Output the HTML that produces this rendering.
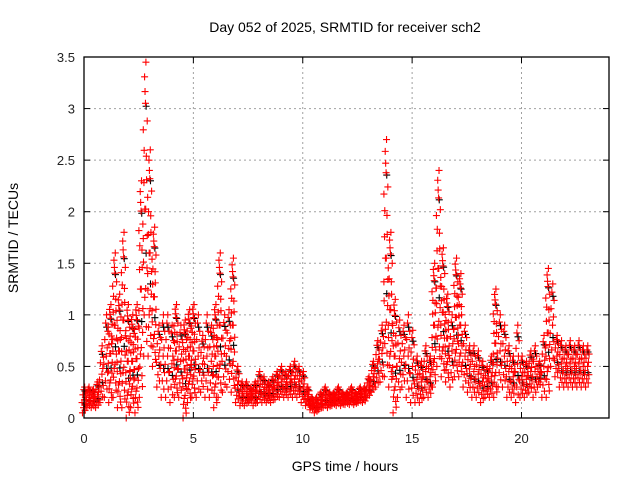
<!DOCTYPE html>
<html><head><meta charset="utf-8"><style>
body{margin:0;background:#fff}
svg{display:block;font-family:"Liberation Sans",sans-serif}
</style></head><body>
<svg id="chart" width="640" height="480">
<text x="345" y="32" font-size="14" text-anchor="middle">Day 052 of 2025, SRMTID for receiver sch2</text>
<text x="345" y="471" font-size="14" text-anchor="middle">GPS time / hours</text>
<text transform="translate(18,238) rotate(-90)" font-size="14" text-anchor="middle">SRMTID / TECUs</text>
<g id="grid"></g><g id="black"></g><g id="marks"></g><g id="axes"></g>
</svg>
<script>
const xTicks=[0,5,10,15,20];
const yTicks=[0,0.5,1,1.5,2,2.5,3,3.5];
const yTickLabels=["0","0.5","1","1.5","2","2.5","3","3.5"];
const stepHours=0.2;
const hiVals=[0.3,0.3,0.28,0.35,0.7,1.0,1.1,1.6,1.2,1.8,1.1,1.0,1.1,2.3,3.45,2.6,1.85,0.9,1.0,1.0,0.9,1.1,0.9,0.95,1.05,1.1,1.0,0.8,1.0,0.9,1.1,1.6,1.0,1.05,1.55,0.5,0.35,0.35,0.3,0.35,0.45,0.4,0.35,0.4,0.45,0.5,0.45,0.5,0.55,0.5,0.45,0.3,0.2,0.2,0.25,0.3,0.25,0.25,0.3,0.25,0.25,0.3,0.25,0.3,0.3,0.4,0.55,0.75,0.9,2.7,1.8,1.15,0.95,0.9,1.0,0.85,0.6,0.55,0.7,0.6,1.5,2.4,1.65,1.2,1.0,1.55,1.4,0.9,0.7,0.7,0.65,0.55,0.5,0.6,1.25,1.0,0.9,0.7,0.6,0.9,0.6,0.55,0.65,0.7,0.55,0.8,1.45,1.3,0.8,0.75,0.7,0.75,0.7,0.75,0.7,0.7];
const loVals=[0.05,0.1,0.1,0.1,0.15,0.2,0.15,0.2,0.1,0.1,0.0,0.1,0.05,0.2,0.6,0.6,0.5,0.3,0.2,0.2,0.15,0.2,0.2,0.0,0.15,0.2,0.2,0.25,0.2,0.2,0.1,0.2,0.25,0.3,0.25,0.15,0.12,0.12,0.15,0.12,0.15,0.15,0.15,0.15,0.18,0.2,0.2,0.2,0.2,0.2,0.15,0.12,0.08,0.05,0.08,0.1,0.1,0.12,0.12,0.12,0.13,0.13,0.13,0.15,0.15,0.2,0.25,0.3,0.35,0.4,0.3,0.05,0.2,0.3,0.2,0.15,0.15,0.15,0.2,0.2,0.3,0.5,0.4,0.35,0.3,0.4,0.4,0.3,0.25,0.2,0.2,0.15,0.2,0.2,0.2,0.3,0.3,0.2,0.2,0.15,0.2,0.2,0.25,0.2,0.3,0.2,0.2,0.5,0.4,0.3,0.3,0.3,0.3,0.3,0.3,0.3];
const NS="http://www.w3.org/2000/svg";
const L=84,R=609,T=57,B=418;
const xs=h=>L+h*(R-L)/24;
const ys=v=>B-v*(B-T)/3.5;
function mk(tag,attrs,parent){const e=document.createElementNS(NS,tag);for(const k in attrs)e.setAttribute(k,attrs[k]);parent.appendChild(e);return e;}
const grid=document.getElementById('grid'),axes=document.getElementById('axes'),marks=document.getElementById('marks'),black=document.getElementById('black');
xTicks.forEach((t,i)=>{
  const x=xs(t);
  if(t>0){const g=mk('line',{x1:x,x2:x,y1:T,y2:B,stroke:'#a0a0a0','stroke-dasharray':'2,3'},grid);
  
  }
  mk('line',{x1:x,x2:x,y1:B,y2:B-6,stroke:'#000'},axes);
  mk('line',{x1:x,x2:x,y1:T,y2:T+6,stroke:'#000'},axes);
  const tx=mk('text',{x:x,y:B+25,'font-size':13,'text-anchor':'middle',fill:'#222'},axes);
  tx.textContent=String(t);
  
  
});
yTicks.forEach((v,i)=>{
  const y=ys(v);
  if(v>0&&v<3.5){const g=mk('line',{x1:L,x2:R,y1:y,y2:y,stroke:'#a0a0a0','stroke-dasharray':'2,3'},grid);
  
  }
  mk('line',{x1:L,x2:L+6,y1:y,y2:y,stroke:'#000'},axes);
  mk('line',{x1:R,x2:R-6,y1:y,y2:y,stroke:'#000'},axes);
  const tx=mk('text',{x:L-9,y:y+5,'font-size':13,'text-anchor':'end',fill:'#222'},axes);
  tx.textContent=yTickLabels[i];
  
  
});
const frame=mk('rect',{x:L,y:T,width:R-L,height:B-T,fill:'none',stroke:'#000','stroke-width':1.3},axes);


function plus(x,y,c,g){return mk('path',{d:`M${x-3.5},${y}h7M${x},${y-3.5}v7`,stroke:c,'stroke-width':1.1,fill:'none'},g);}
const fr=[0,0.1,0.2,0.3,0.4,0.5,0.6,0.7,0.8,0.9,1];
const off=[-0.07,0.05,-0.02,0.08,-0.09,0.02,0.06,-0.05,0.09,-0.01,0.03];
const n=Math.min(hiVals.length,loVals.length);
for(let i=0;i<n;i++){
  const h=i*stepHours,lo=loVals[i],hi=hiVals[i];
  [0.35,0.85].forEach(f=>{
    const b=plus(xs(h+0.04),ys(lo+(hi-lo)*f),'#000',black);
    
    
  });
  fr.forEach((f,k)=>{
    const p=plus(xs(h+off[k]),ys(lo+(hi-lo)*f),'#f00',marks);
    
    
  });
  if(hi-lo>0.8){fr.forEach((f,k)=>{
    const p=plus(xs(h-off[k]),ys(lo+(hi-lo)*(f*0.9+0.05)),'#f00',marks);
    
    
  });}
}
</script>
</body></html>
